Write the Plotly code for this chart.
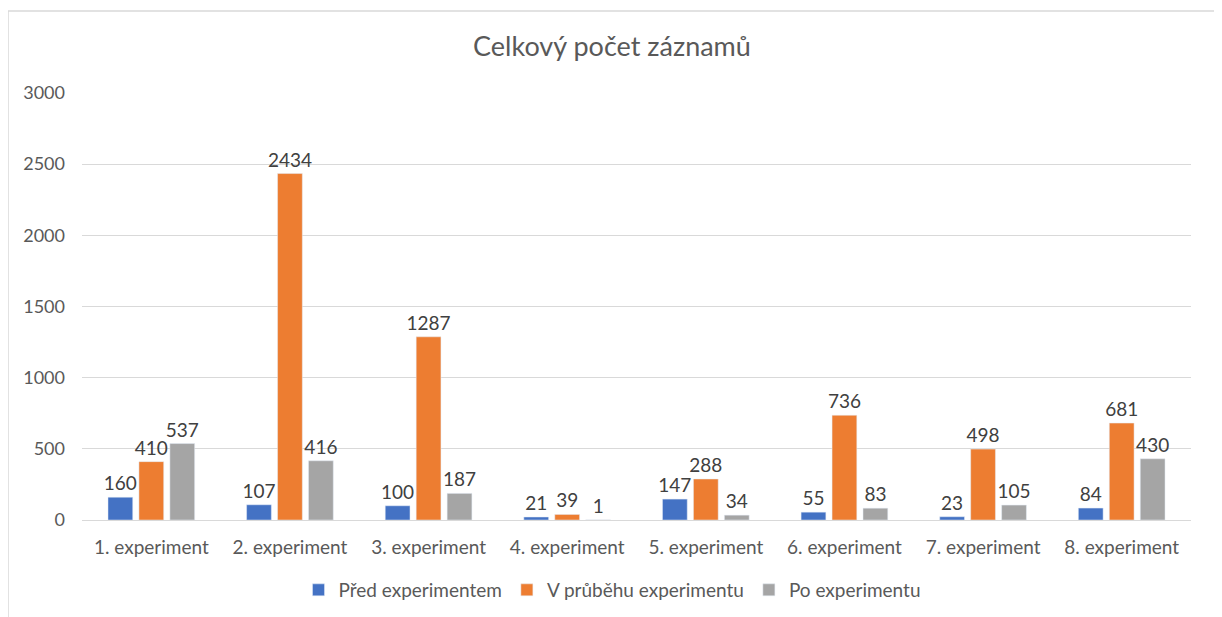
import plotly.graph_objects as go

categories = ["1. experiment", "2. experiment", "3. experiment", "4. experiment",
              "5. experiment", "6. experiment", "7. experiment", "8. experiment"]
pred = [160, 107, 100, 21, 147, 55, 23, 84]
prubeh = [410, 2434, 1287, 39, 288, 736, 498, 681]
po = [537, 416, 187, 1, 34, 83, 105, 430]
series_names = ["Před experimentem", "V průběhu experimentu", "Po experimentu"]
colors = ["#4472C4", "#ED7D31", "#A5A5A5"]

W, H = 1222, 617
OFF = 8  # page body margin offset
# plot area in page pixels: x 82..1191, y 93..520
L, T = 82 - OFF, 93 - OFF
R = W - (1191 - OFF)
B = H - (520 - OFF)
pw, ph = W - L - R, H - T - B

FONT = "Lato"
fig = go.Figure()
for name, vals, col in zip(series_names, [pred, prubeh, po], colors):
    fig.add_trace(go.Bar(
        x=categories, y=vals, name=name, marker_color=col,
        text=[str(v) for v in vals], textposition="outside",
        textfont=dict(size=19, color="#404040", family=FONT),
        constraintext="none", cliponaxis=False,
    ))

def px_x(p):  # page px -> paper x
    return (p - OFF - L) / pw

def px_y(p):  # page px -> paper y
    return (H - B - (p - OFF)) / ph

fig.add_shape(type="rect", xref="paper", yref="paper",
              x0=px_x(8), x1=px_x(1216), y0=px_y(640), y1=px_y(11),
              line=dict(color="#D9D9D9", width=1.5), fillcolor="rgba(0,0,0,0)", layer="below")

fig.update_layout(
    width=W, height=H,
    margin=dict(l=L, r=R, t=T, b=B, autoexpand=False),
    paper_bgcolor="white", plot_bgcolor="white",
    barmode="group", bargap=0.33, bargroupgap=0.2,
    uniformtext=dict(mode=False),
    font=dict(family=FONT, color="#595959", size=19),
    title=dict(text="Celkový počet záznamů", x=(612 - OFF) / W, xanchor="center",
               y=1 - (47 - OFF) / H, yanchor="middle",
               font=dict(size=27, color="#595959", family=FONT)),
    showlegend=True,
    legend=dict(orientation="h", x=px_x(612), xanchor="center", y=px_y(590), yanchor="middle",
                font=dict(size=19, color="#595959", family=FONT),
                itemwidth=30, tracegroupgap=0),
    xaxis=dict(showgrid=False, showline=False, zeroline=False, ticks="", automargin=False,
               tickfont=dict(size=19, color="#595959"), ticklabelstandoff=14),
    yaxis=dict(range=[0, 3000], dtick=500, showgrid=True, gridcolor="#D9D9D9", gridwidth=1,
               zeroline=True, zerolinecolor="#D9D9D9", zerolinewidth=1, showline=False,
               automargin=False,
               ticks="", tickfont=dict(size=18, color="#595959"), ticklabelstandoff=16),
)

fig.write_html("out.html")
